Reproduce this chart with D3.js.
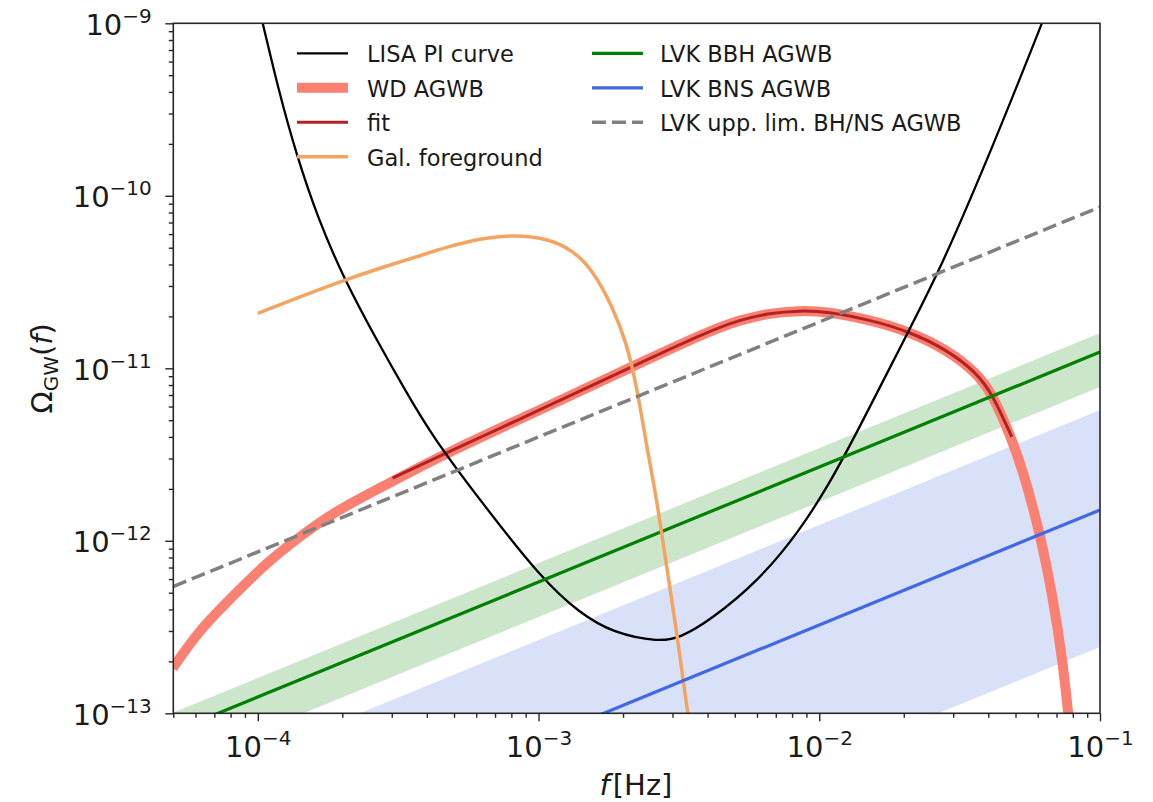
<!DOCTYPE html>
<html>
<head>
<meta charset="utf-8">
<script src="https://cdn.jsdelivr.net/npm/d3@7"></script>
<style>
  body { margin: 0; background: #fff; }
  text { font-family: "DejaVu Sans", sans-serif; fill: #1a1a1a; }
</style>
</head>
<body>
<div id="vis"></div>
<script>
// LISA power-law integrated sensitivity curve
var lisaF = [1.0e-4, 1.042e-4, 1.185e-4, 1.374e-4, 1.645e-4, 2.037e-4, 2.65e-4, 3.39e-4, 4.20e-4,
             6.17e-4, 1.033e-3, 1.40e-3, 1.84e-3, 2.70e-3, 3.19e-3, 4.07e-3, 6.13e-3, 8.51e-3, 1.089e-2,
             1.337e-2, 2.15e-2, 2.69e-2, 4.15e-2, 6.21e-2, 6.65e-2];
var lisaOmega = [1.3e-9, 1.0e-9, 4.10e-10, 1.72e-10, 7.24e-11, 3.25e-11, 1.46e-11, 7.20e-12, 4.00e-12,
                 1.73e-12, 5.93e-13, 3.82e-13, 2.92e-13, 2.59e-13, 2.74e-13, 3.44e-13, 5.93e-13, 1.14e-12, 2.16e-12,
                 4.00e-12, 1.83e-11, 3.72e-11, 1.92e-10, 1.0e-9, 1.33e-9];

// white dwarf background
var wdF = [4.98e-5, 6.20e-5, 8.12e-5, 1.074e-4, 1.408e-4, 1.845e-4, 2.78e-4, 4.70e-4, 1.069e-3, 2.11e-3,
           4.07e-3, 5.21e-3, 6.66e-3, 8.52e-3, 1.064e-2, 1.514e-2, 2.10e-2, 2.85e-2, 3.64e-2, 4.15e-2, 4.78e-2,
           5.31e-2, 6.11e-2, 6.79e-2, 7.38e-2, 7.69e-2, 7.94e-2];
var wdOmega = [1.83e-13, 3.05e-13, 4.74e-13, 7.46e-13, 1.055e-12, 1.453e-12, 2.06e-12, 3.24e-12, 5.98e-12, 1.007e-11,
               1.65e-11, 1.905e-11, 2.09e-11, 2.16e-11, 2.135e-11, 1.91e-11, 1.63e-11, 1.28e-11, 9.42e-12, 7.02e-12, 4.12e-12,
               2.58e-12, 1.11e-12, 4.74e-13, 1.96e-13, 1.01e-13, 6.56e-14];

// fit to the WD background
var fitF = [3.02e-4, 4.70e-4, 1.069e-3, 2.11e-3, 4.07e-3, 5.21e-3, 6.66e-3, 8.52e-3, 1.064e-2, 1.514e-2, 2.10e-2,
            2.85e-2, 3.64e-2, 4.15e-2, 4.85e-2];
var fitOmega = [2.31e-12, 3.24e-12, 5.98e-12, 1.007e-11, 1.65e-11, 1.905e-11, 2.09e-11, 2.16e-11, 2.135e-11, 1.91e-11, 1.63e-11,
                1.28e-11, 9.42e-12, 7.02e-12, 4.0e-12];

// galactic foreground
var galF = [1.0e-4, 1.408e-4, 2.04e-4, 2.72e-4, 3.67e-4, 4.70e-4, 6.32e-4, 8.09e-4, 1.069e-3, 1.322e-3,
            1.559e-3, 1.836e-3, 2.06e-3, 2.24e-3, 2.43e-3, 2.64e-3, 2.86e-3, 3.11e-3, 3.26e-3, 3.40e-3, 3.46e-3];
var galOmega = [2.08e-11, 2.59e-11, 3.25e-11, 3.81e-11, 4.42e-11, 5.05e-11, 5.69e-11, 5.93e-11, 5.69e-11, 4.85e-11,
                3.72e-11, 2.27e-11, 1.40e-11, 7.79e-12, 3.50e-12, 1.72e-12, 7.05e-13, 2.92e-13, 1.62e-13, 1.02e-13, 8.0e-14];

// LVK power laws (ends of the plotted range)
var lvkF = [5e-5, 1e-1];
var bbhOmega = [7.83e-14, 1.243e-11];
var bbhLow = [4.91e-14, 7.79e-12];
var bbhHigh = [1.01e-13, 1.60e-11];
var bnsOmega = [9.5e-15, 1.51e-12];
var bnsLow = [1.53e-15, 2.42e-13];
var bnsHigh = [3.61e-14, 5.73e-12];
var uppOmega = [5.43e-13, 8.61e-11];

var legendLabels1 = ["LISA PI curve", "WD AGWB", "fit", "Gal. foreground"];
var legendLabels2 = ["LVK BBH AGWB", "LVK BNS AGWB", "LVK upp. lim. BH/NS AGWB"];

var margin = { top: 23.3, right: 53, bottom: 88.7, left: 173.3 };
var width  = 1153 - margin.left - margin.right;
var height = 802 - margin.top - margin.bottom;

var x = d3.scaleLog().domain([5e-5, 1e-1]).range([0, width]);
var y = d3.scaleLog().domain([1e-13, 1e-9]).range([height, 0]);

var svg = d3.select("#vis").append("svg")
    .attr("width", 1153)
    .attr("height", 802)
    .style("background", "#fff");

var g = svg.append("g")
    .attr("transform", "translate(" + margin.left + "," + margin.top + ")");

g.append("clipPath").attr("id", "plotclip")
  .append("rect").attr("width", width).attr("height", height);

var plot = g.append("g").attr("clip-path", "url(#plotclip)");

var pairs = function(a, b) { return a.map(function(v, i) { return [v, b[i]]; }); };

var smooth = d3.line()
    .x(function(d) { return x(d[0]); })
    .y(function(d) { return y(d[1]); })
    .curve(d3.curveBasis);

var straight = d3.line()
    .x(function(d) { return x(d[0]); })
    .y(function(d) { return y(d[1]); });

var band = d3.area()
    .x(function(d) { return x(d[0]); })
    .y0(function(d) { return y(d[1]); })
    .y1(function(d) { return y(d[2]); });

var triples = function(f, lo, hi) { return f.map(function(v, i) { return [v, lo[i], hi[i]]; }); };

// bands
plot.append("path").attr("d", band(triples(lvkF, bbhLow, bbhHigh)))
    .attr("fill", "green").attr("fill-opacity", 0.2);
plot.append("path").attr("d", band(triples(lvkF, bnsLow, bnsHigh)))
    .attr("fill", "royalblue").attr("fill-opacity", 0.2);

// WD background + fit
plot.append("path").attr("d", smooth(pairs(wdF, wdOmega)))
    .attr("fill", "none").attr("stroke", "salmon").attr("stroke-width", 10);
plot.append("path").attr("d", smooth(pairs(fitF, fitOmega)))
    .attr("fill", "none").attr("stroke", "firebrick").attr("stroke-width", 3);

// LISA
plot.append("path").attr("d", smooth(pairs(lisaF, lisaOmega)))
    .attr("fill", "none").attr("stroke", "black").attr("stroke-width", 2.3);

// BBH line
plot.append("path").attr("d", straight(pairs(lvkF, bbhOmega)))
    .attr("fill", "none").attr("stroke", "green").attr("stroke-width", 3.2);

// galactic foreground
plot.append("path").attr("d", smooth(pairs(galF, galOmega)))
    .attr("fill", "none").attr("stroke", "sandybrown").attr("stroke-width", 3.5);

// BNS line
plot.append("path").attr("d", straight(pairs(lvkF, bnsOmega)))
    .attr("fill", "none").attr("stroke", "royalblue").attr("stroke-width", 3.2);

// upper limit
plot.append("path").attr("d", straight(pairs(lvkF, uppOmega)))
    .attr("fill", "none").attr("stroke", "gray").attr("stroke-width", 3.5)
    .attr("stroke-dasharray", "14,6");

// axes
var isMajor = function(d) { return Math.abs(Math.log10(d) - Math.round(Math.log10(d))) < 1e-6; };
var xMajor = x.ticks().filter(isMajor);
var xMinor = x.ticks().filter(function(d) { return !isMajor(d); });
var yMajor = y.ticks().filter(isMajor);
var yMinor = y.ticks().filter(function(d) { return !isMajor(d); });

var powLabel = function(sel) {
  sel.each(function(d) {
    var t = d3.select(this);
    var e = Math.round(Math.log10(d));
    t.text(null);
    t.append("tspan").text("10");
    t.append("tspan").attr("font-size", "20px").attr("dy", -12).text("\u2212" + Math.abs(e));
  });
};

var xAxisMinor = g.append("g").attr("transform", "translate(0," + height + ")")
    .call(d3.axisBottom(x).tickValues(xMinor).tickSize(4.5).tickFormat(""));
var xAxis = g.append("g").attr("transform", "translate(0," + height + ")")
    .call(d3.axisBottom(x).tickValues(xMajor).tickSize(8));
xAxis.selectAll("text")
    .attr("y", 43.4).attr("dy", null)
    .attr("font-size", "29px")
    .call(powLabel);

var yAxisMinor = g.append("g")
    .call(d3.axisLeft(y).tickValues(yMinor).tickSize(4.5).tickFormat(""));
var yAxis = g.append("g")
    .call(d3.axisLeft(y).tickValues(yMajor).tickSize(8));
yAxis.selectAll("text")
    .attr("x", -21.5).attr("dy", null).attr("y", 10.7)
    .attr("font-size", "29px")
    .call(powLabel);

[xAxisMinor, xAxis, yAxisMinor, yAxis].forEach(function(a) {
  a.select(".domain").remove();
  a.selectAll("line").attr("stroke", "#262626").attr("stroke-width", 1.4);
  a.attr("font-family", null);
});

// frame
g.append("rect").attr("width", width).attr("height", height)
    .attr("fill", "none").attr("stroke", "#262626").attr("stroke-width", 1.6);

// axis labels
var xl = svg.append("text")
    .attr("x", 636).attr("y", 795)
    .attr("text-anchor", "middle")
    .attr("font-size", "29px");
xl.append("tspan").attr("font-style", "italic").text("f");
xl.append("tspan").attr("dx", 3).text("[Hz]");

var yl = svg.append("text")
    .attr("transform", "translate(52," + (margin.top + height / 2) + ") rotate(-90)")
    .attr("text-anchor", "middle")
    .attr("font-size", "29px");
yl.append("tspan").text("\u03A9");
yl.append("tspan").attr("font-size", "20px").attr("dy", 6).text("GW");
yl.append("tspan").attr("dy", -6).text("(");
yl.append("tspan").attr("font-style", "italic").text("f");
yl.append("tspan").text(")");

// legend
var legend1Style = [
  { stroke: "black", width: 2.3, dash: null },
  { stroke: "salmon", width: 10, dash: null },
  { stroke: "firebrick", width: 3, dash: null },
  { stroke: "sandybrown", width: 3.5, dash: null }
];
var legend2Style = [
  { stroke: "green", width: 3.2, dash: null },
  { stroke: "royalblue", width: 3.2, dash: null },
  { stroke: "gray", width: 3.5, dash: "14,6" }
];

var drawLegend = function(labels, styles, x0, tx) {
  var rows = svg.append("g").selectAll("g")
      .data(labels)
      .enter().append("g")
      .attr("transform", function(d, i) { return "translate(0," + (53.3 + i * 34.5) + ")"; });
  rows.append("line")
      .attr("x1", x0).attr("x2", x0 + 51)
      .attr("stroke", function(d, i) { return styles[i].stroke; })
      .attr("stroke-width", function(d, i) { return styles[i].width; })
      .attr("stroke-dasharray", function(d, i) { return styles[i].dash; });
  rows.append("text")
      .attr("x", tx).attr("y", 9)
      .attr("font-size", "22.5px")
      .text(function(d) { return d; });
};
drawLegend(legendLabels1, legend1Style, 297, 367);
drawLegend(legendLabels2, legend2Style, 592, 660);
</script>
</body>
</html>
